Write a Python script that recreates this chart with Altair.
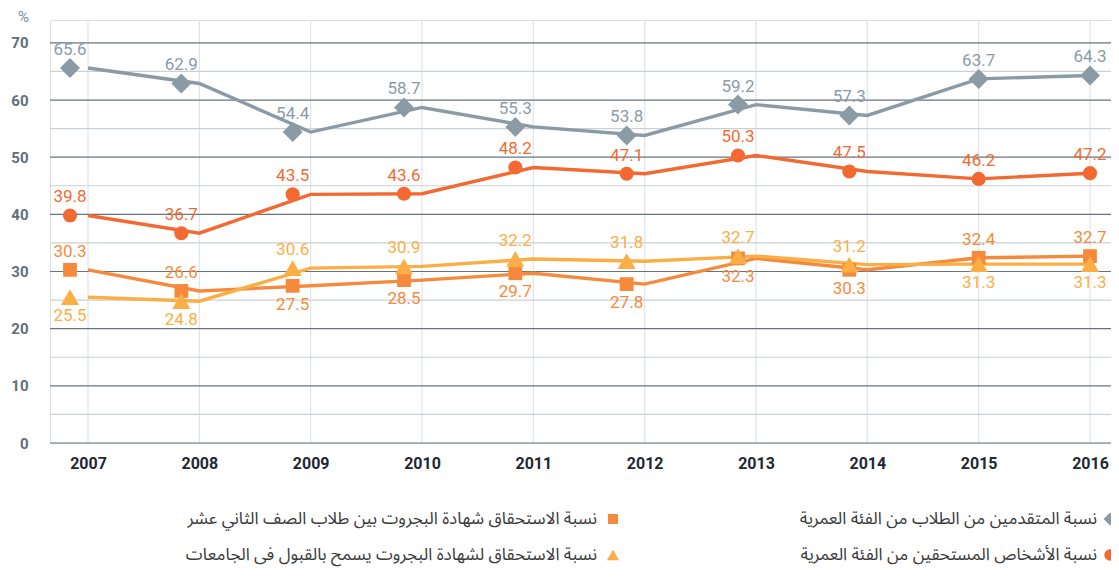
import altair as alt
import pandas as pd

years = [2007, 2008, 2009, 2010, 2011, 2012, 2013, 2014, 2015, 2016]
applicants = [65.6, 62.9, 54.4, 58.7, 55.3, 53.8, 59.2, 57.3, 63.7, 64.3]
eligible = [39.8, 36.7, 43.5, 43.6, 48.2, 47.1, 50.3, 47.5, 46.2, 47.2]
bagrut12 = [30.3, 26.6, 27.5, 28.5, 29.7, 27.8, 32.3, 30.3, 32.4, 32.7]
university = [25.5, 24.8, 30.6, 30.9, 32.2, 31.8, 32.7, 31.2, 31.3, 31.3]

names = [
    "نسبة المتقدمين من الطلاب من الفئة العمرية",
    "نسبة الأشخاص المستحقين من الفئة العمرية",
    "نسبة الاستحقاق شهادة البجروت بين طلاب الصف الثاني عشر",
    "نسبة الاستحقاق لشهادة البجروت يسمح بالقبول فى الجامعات",
]
colors = ["#8b9ba6", "#f26a32", "#f68a3c", "#fcae46"]
shapes = ["diamond", "circle", "square", "triangle-up"]
marker_sizes = [400, 200, 190, 330]
legend_sizes = [170, 130, 100, 150]
y_ticks = [0, 10, 20, 30, 40, 50, 60, 70]
minor_ticks = [5, 15, 25, 35, 45, 55, 65]

series_vals = [applicants, eligible, bagrut12, university]
rows = []
for i, (nm, vals) in enumerate(zip(names, series_vals)):
    for j, (yr, v) in enumerate(zip(years, vals)):
        if i < 2:
            pos = "above"
        else:
            other = series_vals[5 - i][j]
            pos = "above" if v >= other else "below"
        rows.append({"series": nm, "year": yr, "value": v, "pos": pos,
                     "shifted": yr <= 2014})
df = pd.DataFrame(rows)

W, H = 1061, 423
XDOM = [2006.6587, 2016.1886]
YDOM = [0, 74]

xs = alt.Scale(domain=XDOM, nice=False, zero=False)
ys = alt.Scale(domain=YDOM, nice=False, zero=True)
cs = alt.Scale(domain=names, range=colors)

base = alt.Chart(df)

vgrid = alt.Chart(pd.DataFrame({"year": years})).mark_rule(
    color="#dfe5ea", strokeWidth=1.2
).encode(x=alt.X("year:Q", scale=xs), y=alt.value(0), y2=alt.value(H))

minor = alt.Chart(pd.DataFrame({"v": minor_ticks})).mark_rule(
    color="#c9d1d7", strokeWidth=1.2
).encode(y=alt.Y("v:Q", scale=ys), x=alt.value(0), x2=alt.value(W))

major = alt.Chart(pd.DataFrame({"v": y_ticks})).mark_rule(
    color="#66747f", strokeWidth=1.2
).encode(y=alt.Y("v:Q", scale=ys), x=alt.value(0), x2=alt.value(W))

lines = base.mark_line(strokeWidth=3.4).encode(
    x=alt.X("year:Q", scale=xs,
            axis=alt.Axis(values=years, format="d", grid=False, ticks=False,
                          domain=False, labelPadding=12, labelFontSize=16,
                          labelFontWeight="bold", labelColor="#1e2830",
                          labelFont="Roboto", title=None)),
    y=alt.Y("value:Q", scale=ys,
            axis=alt.Axis(values=y_ticks, grid=False, ticks=False, domain=False,
                          labelPadding=22, labelFontSize=15,
                          labelFontWeight="bold", labelColor="#5f6f7b",
                          labelFont="Roboto", title="%", titleAngle=0,
                          titleFontWeight="normal", titleFontSize=15,
                          titleColor="#7d8b95", titleFont="Roboto",
                          titleX=-27, titleY=-4, titleAlign="center",
                          titleBaseline="middle")),
    color=alt.Color("series:N", scale=cs, legend=None),
    detail="series:N",
)

layers = [vgrid, minor, major, lines]

for shifted, off in [(True, -18), (False, 0)]:
    sub = base.transform_filter(
        alt.datum.shifted if shifted else ~alt.datum.shifted)
    for nm, shp, msz in zip(names, shapes, marker_sizes):
        pts = sub.transform_filter(alt.datum.series == nm).mark_point(
            filled=True, opacity=1, xOffset=off, shape=shp, size=msz
        ).encode(
            x=alt.X("year:Q", scale=xs),
            y=alt.Y("value:Q", scale=ys),
            color=alt.Color("series:N", scale=cs, legend=None),
        )
        layers.append(pts)
    for pos, dy in [("above", -18), ("below", 19)]:
        txt = sub.transform_filter(alt.datum.pos == pos).mark_text(
            font="Roboto", fontSize=17, xOffset=off, dy=dy, baseline="middle"
        ).encode(
            x=alt.X("year:Q", scale=xs),
            y=alt.Y("value:Q", scale=ys),
            text=alt.Text("value:Q", format=".1f"),
            color=alt.Color("series:N", scale=cs, legend=None),
        )
        layers.append(txt)

# manual right-to-left legend
leg_pos = [(1060, 1047, 499), (1060, 1047, 535), (563, 547, 499), (563, 547, 535)]
for nm, col, shp, lsz, (sx, tx, ly) in zip(names, colors, shapes, legend_sizes, leg_pos):
    d = pd.DataFrame({"label": [nm]})
    sym = alt.Chart(d).mark_point(filled=True, opacity=1, size=lsz, shape=shp,
                                  color=col).encode(x=alt.value(sx), y=alt.value(ly))
    lab = alt.Chart(d).mark_text(align="right", baseline="middle", fontSize=17,
                                 font="Noto Sans Arabic, DejaVu Sans, sans-serif",
                                 color="#3a3a3a").encode(
        x=alt.value(tx), y=alt.value(ly), text="label:N")
    layers += [sym, lab]

chart = alt.layer(*layers).properties(
    width=W, height=H,
    autosize=alt.AutoSizeParams(type="none"),
    padding={"left": 42, "top": 12, "right": 0, "bottom": 129},
).configure_view(stroke=None).configure(background="white")

chart.save("out.html", embed_options={"renderer": "svg", "actions": False})
